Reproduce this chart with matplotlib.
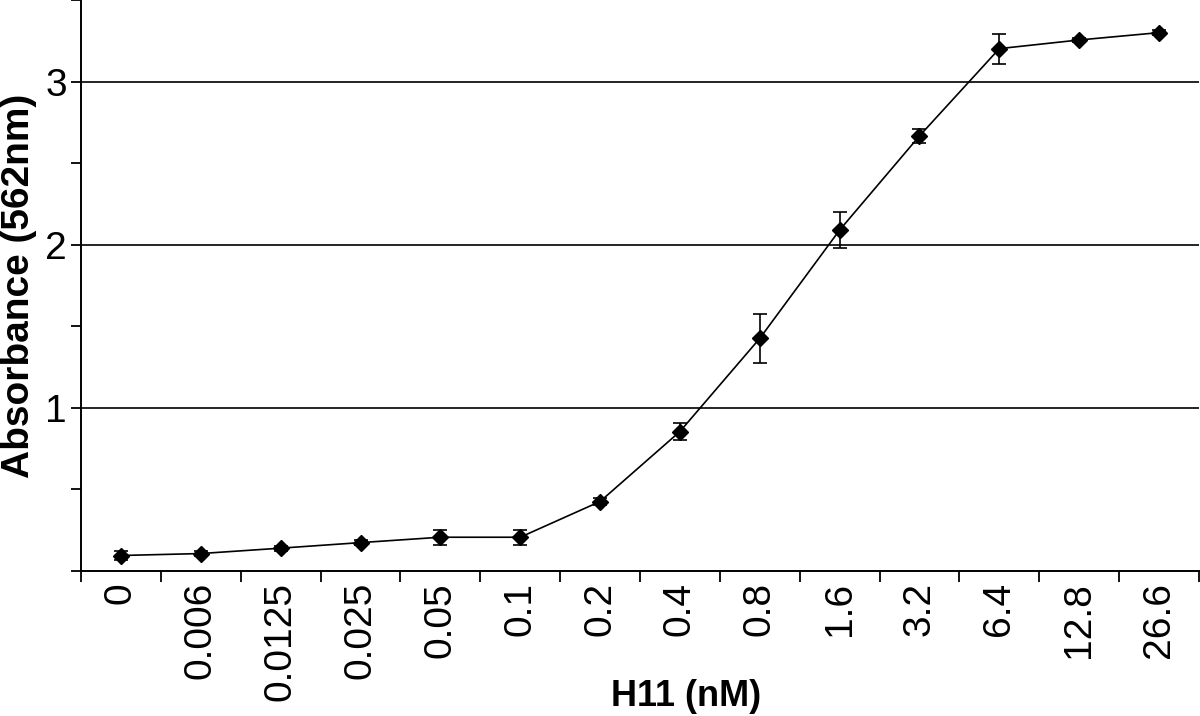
import matplotlib
matplotlib.use("Agg")
import matplotlib.pyplot as plt
import numpy as np

concentrations = ["0", "0.006", "0.0125", "0.025", "0.05", "0.1", "0.2",
                  "0.4", "0.8", "1.6", "3.2", "6.4", "12.8", "26.6"]
absorbance = [0.095, 0.107, 0.14, 0.174, 0.207, 0.207, 0.426,
              0.855, 1.426, 2.09, 2.667, 3.202, 3.255, 3.30]
errors = [0.025, 0.015, 0.015, 0.015, 0.045, 0.045, 0.02,
          0.055, 0.15, 0.11, 0.045, 0.092, 0.015, 0.015]
y_labels = {1: "1", 2: "2", 3: "3"}

plt.rcParams['font.family'] = ['Liberation Sans', 'DejaVu Sans']

fig = plt.figure(figsize=(12, 7.16), dpi=100)
ax = fig.add_axes([81/1200, 1 - 571/716, 1118/1200, 571/716])

x = np.arange(len(concentrations))
ax.errorbar(x, absorbance, yerr=errors, color='black', lw=1.2,
            marker='D', ms=8.5, mfc='black', mec='black',
            ecolor='black', elinewidth=1.2, capsize=5, capthick=1.2, zorder=3)

ax.set_xlim(-0.5, len(concentrations) - 0.5)
ax.set_ylim(0, 3.5)

for v in y_labels:
    ax.axhline(v, color='black', lw=1.2, zorder=1)

yt = np.arange(0, 3.51, 0.5)
ax.set_yticks(yt)
ax.set_yticklabels([y_labels.get(int(t), "") if float(t).is_integer() else "" for t in yt],
                   fontsize=28)
ax.set_xticks(x)
ax.set_xticklabels(concentrations, rotation=90, fontsize=28)
ax.set_xticks(np.arange(-0.5, len(concentrations)), minor=True)
ax.tick_params(axis='x', which='major', length=0, pad=8)
ax.tick_params(axis='x', which='minor', length=8, width=1.3, direction='out')
ax.tick_params(axis='y', which='major', length=7, width=1.3, direction='out', pad=3)

for s in ['top', 'right']:
    ax.spines[s].set_visible(False)
for s in ['left', 'bottom']:
    ax.spines[s].set_linewidth(1.4)

fig.text(686/1200, 1 - 697/716, "H11 (nM)", fontsize=26, fontweight='bold',
         ha='center', va='center')
ax.set_ylabel("Absorbance (562nm)", fontsize=28, fontweight='bold', labelpad=6)

fig.savefig("out.png", dpi=100)
